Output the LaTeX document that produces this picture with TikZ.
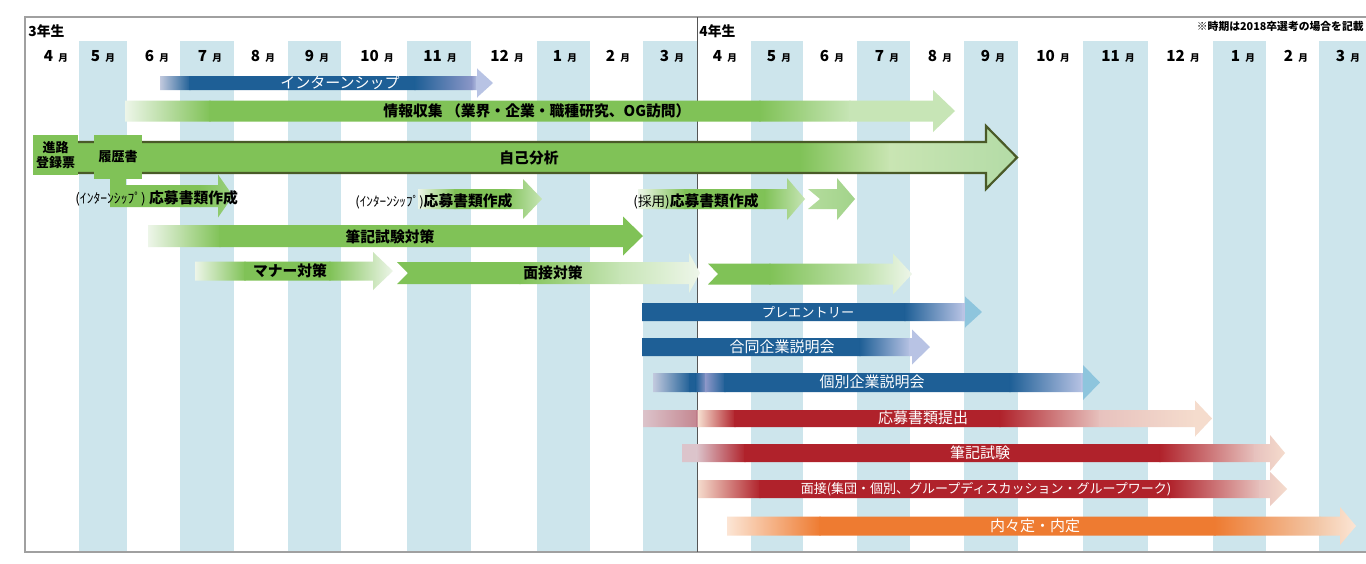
\documentclass[tikz,border=0pt]{standalone}
\usepackage{fontspec}
\setmainfont{Noto Sans CJK JP}
\usetikzlibrary{positioning}

\definecolor{stripec}{HTML}{CDE5EC}
\definecolor{framec}{HTML}{A0A0A0}
\definecolor{divc}{HTML}{555555}
\definecolor{gn}{HTML}{80C257}
\definecolor{gnl}{HTML}{C7E5B6}
\definecolor{gnp}{HTML}{EEF6EA}
\definecolor{gnm}{HTML}{C9E5B3}
\definecolor{gnh}{HTML}{B3DBA6}
\definecolor{gnk}{HTML}{9AD07F}
\definecolor{gnc}{HTML}{B4DC9D}
\definecolor{gnd}{HTML}{A2D38A}
\definecolor{olv}{HTML}{4A5A28}
\definecolor{bl}{HTML}{1E5F96}
\definecolor{blq}{HTML}{C5CBDF}
\definecolor{blp}{HTML}{B8C3E4}
\definecolor{blt}{HTML}{8EC5DD}
\definecolor{blm}{HTML}{8C97C8}
\definecolor{rd}{HTML}{B0222B}
\definecolor{rdp}{HTML}{DCC4CB}
\definecolor{rdm}{HTML}{C48690}
\definecolor{rdl}{HTML}{E7C2BE}
\definecolor{pch}{HTML}{F5DCCD}
\definecolor{org}{HTML}{EE7B31}
\definecolor{orp}{HTML}{FCE6D6}
\definecolor{orl}{HTML}{F3C9AA}

\tikzset{
        lab/.style = {font=\fontsize{7.4}{8}\selectfont\bfseries, inner sep=0pt},
        wlab/.style = {font=\fontsize{7.5}{8}\selectfont, text=white, inner sep=0pt},
        month/.style = {font=\fontsize{7.6}{8}\selectfont\bfseries, inner sep=0pt},
        year/.style = {font=\fontsize{6.9}{8}\selectfont\bfseries, inner sep=0pt, anchor=west},
        box/.style = {fill=gn, inner sep=0pt, align=center,
            font=\fontsize{6.5}{7.6}\selectfont\bfseries},
        selfline/.style = {draw=olv, line width=1.1pt, line join=miter},
    }

% bar with arrow head: x0, head base, tip, y, body half, head half, notch, first colour, stops
\newcommand\planbar[9]{%
  \begin{scope}
    \clip (#1,#4-#5) -- (#2,#4-#5) -- (#2,#4-#6) -- (#3,#4) -- (#2,#4+#6)
          -- (#2,#4+#5) -- (#1,#4+#5) -- (#1+#7,#4) -- cycle;
    \foreach \sx/\sc [remember=\sx as \px (initially #1),
                      remember=\sc as \pc (initially #8)] in {#9}
      \shade[left color=\pc, right color=\sc] (\px-0.6,#4-#6-1) rectangle (\sx+0.6,#4+#6+1);
  \end{scope}}

\begin{document}
\begin{tikzpicture}[x=0.5pt,y=-0.5pt]
    \useasboundingbox (0,0) rectangle (1366,563);
    \fill[white] (0,0) rectangle (1366,563);

    % month stripes
    \foreach \a/\b in {79/127,180/234,288/341,407/471,537/590,643/697,
                       751/803,857/910,964/1018,1083/1148,1213/1266,1319/1372}
        \fill[stripec] (\a,41) rectangle (\b,552);

    % frame and year line
    \draw[framec, line width=0.8pt] (1372,17) -- (25,17) -- (25,552) -- (1372,552);
    \draw[divc, line width=0.5pt] (697,17) -- (697,552);

    \node[year] (y3) at (28,31) {3年生};
    \node[year] (y4) at (699,31) {4年生};
    \node[anchor=east, inner sep=0pt, font=\fontsize{5.4}{6}\selectfont\bfseries]
        (note) at (1364,26) {※時期は2018卒選考の場合を記載};

    \foreach \m/\x [count=\i] in {4/56,5/103,6/157,7/210,8/263,9/317,10/377,11/440,
                                  12/507,1/565,2/618,3/672,4/725,5/779,6/832,7/887,
                                  8/940,9/993,10/1053,11/1118,12/1183,1/1243,2/1296,3/1348}
        \node[month] (m\i) at (\x,56) {\m\hspace{2.6pt}{\fontsize{4.8}{5}\selectfont 月}};

    % green rows
    \planbar{160}{477}{493}{83}{7}{14.5}{0}{blq}{190/bl,415/bl,472/blm,477/blp,493/blp}
    \node[wlab] (intern) at (340,83) {インターンシップ};

    \planbar{125}{933}{955}{111}{10.5}{21}{0}{gnp}{210/gn,760/gn,850/gnl,955/gnl}
    \node[lab] (jyoho) at (537,111) {情報収集 （業界・企業・職種研究、OG訪問）};

    \planbar{40}{986}{1017}{157.5}{15.5}{31.5}{0}{gn}{800/gn,890/gnm,1017/gnh}
    \draw[selfline] (40,142) -- (986,142) -- (986,126) -- (1017,157.5)
        -- (986,189) -- (986,173) -- (40,173);
    \node[lab] (jiko) at (529,158) {自己分析};

    \fill[gn] (110,175) rectangle (126,187);
    \node[box, minimum width=22.5pt, minimum height=20pt] (shinro) at (55.5,155) {進路\\登録票};
    \node[box, minimum width=24pt, minimum height=22pt] (rireki) at (118,157) {履歴書};

    \planbar{110}{218}{233}{196}{11}{21.5}{0}{gn}{200/gn,233/gnk}
    \node[lab, anchor=west] (obo1) at (75,198)
        {{\mdseries\fontsize{6.8}{7}\selectfont (ｲﾝﾀｰﾝｼｯﾌﾟ)} 応募書類作成};

    \planbar{418}{523}{542}{199}{10}{20}{0}{gnp}{455/gn,505/gn,542/gnl}
    \node[lab, anchor=west] (obo2) at (355,201)
        {{\mdseries\fontsize{6.6}{7}\selectfont (ｲﾝﾀｰﾝｼｯﾌﾟ)}応募書類作成};

    \planbar{638}{787}{805}{199}{10}{21}{0}{gnp}{685/gn,765/gn,805/gnl}
    \planbar{808}{837}{855}{199}{10}{21}{12}{gnc}{855/gnd}
    \node[lab, anchor=west] (obo3) at (633,201)
        {{\mdseries\fontsize{6.8}{7}\selectfont (採用)}応募書類作成};

    \planbar{148}{623}{643}{236}{11}{19.5}{0}{gnp}{220/gn,643/gn}
    \node[lab] (hikkitai) at (390,237) {筆記試験対策};

    \planbar{195}{373}{393}{271}{9.5}{19}{0}{gnp}{245/gn,330/gn,393/gnp}
    \node[lab] (manner) at (290,271) {マナー対策};
    \planbar{397}{689}{700}{273}{11}{20}{11}{gn}{520/gn,620/gnl,700/gnp}
    \node[lab] (mentai) at (553,273) {面接対策};
    \planbar{708}{893}{912}{274}{10.5}{20.5}{10}{gn}{770/gn,870/gnl,912/gnp}

    % blue rows
    \planbar{642}{965}{982}{312}{9}{15.5}{0}{bl}{905/bl,963/blp,965/blp,966/blt,982/blt}
    \node[wlab, font=\fontsize{6.6}{7}\selectfont] (pre) at (808,312) {プレエントリー};

    \planbar{642}{912}{930}{347}{9}{17.5}{0}{bl}{860/bl,910/blp,930/blp}
    \node[wlab] (godo) at (782,347) {合同企業説明会};

    \planbar{653}{1083}{1100}{382.5}{9.5}{17.5}{0}{blq}{690/bl,696/bl,706/blm,725/bl,1010/bl,1082/blp,1084/blt,1100/blt}
    \node[wlab] (kobetsu) at (872,382) {個別企業説明会};

    % red rows
    \planbar{643}{1195}{1212}{418.5}{8.5}{18}{0}{rdp}{697/rdm,699/pch,735/rd,1000/rd,1100/rdl,1195/pch,1212/pch}
    \node[wlab] (teishutsu) at (923,418) {応募書類提出};

    \planbar{682}{1270}{1285}{453}{9}{18}{0}{rdp}{697/rdp,745/rd,1160/rd,1255/rdl,1285/pch}
    \node[wlab] (hikki) at (980,453) {筆記試験};

    \planbar{698}{1270}{1287}{489}{9}{17}{0}{pch}{760/rd,1170/rd,1260/rdl,1287/pch}
    \node[wlab, font=\fontsize{6.5}{7}\selectfont] (mensetsu) at (986,489)
        {面接(集団・個別、グループディスカッション・グループワーク)};

    % orange row
    \planbar{727}{1340}{1356}{526}{9.5}{19}{0}{orp}{820/org,1215/org,1320/orl,1356/orp}
    \node[wlab] (naitei) at (1035,526) {内々定・内定};
\end{tikzpicture}
\end{document}
